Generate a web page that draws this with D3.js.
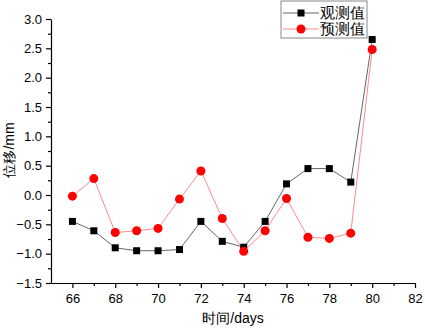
<!DOCTYPE html>
<html>
<head>
<meta charset="utf-8">
<script src="https://cdn.jsdelivr.net/npm/d3@7"></script>
<style>
  body { margin: 0; background: #fff; }
  text { font-family: Arial, "Liberation Sans", sans-serif; }
</style>
</head>
<body>
<div id="chart"></div>
<script>
// days on the x axis
var days = [66, 67, 68, 69, 70, 71, 72, 73, 74, 75, 76, 77, 78, 79, 80];
// observed displacement (mm)
var observed = [-0.45, -0.61, -0.90, -0.95, -0.95, -0.93, -0.45, -0.79, -0.89, -0.45, 0.19, 0.45, 0.45, 0.22, 2.65];
// predicted displacement (mm)
var predicted = [-0.02, 0.28, -0.64, -0.61, -0.57, -0.07, 0.41, -0.40, -0.96, -0.61, -0.06, -0.72, -0.74, -0.65, 2.48];
var xTicks = [66, 68, 70, 72, 74, 76, 78, 80, 82];
var yTicks = [-1.5, -1.0, -0.5, 0.0, 0.5, 1.0, 1.5, 2.0, 2.5, 3.0];
var seriesNames = ["观测值", "预测值"];

window.onload = function() {

  var W = 425, H = 329;
  var margin = {top: 19, bottom: 46, left: 51, right: 10};
  var width = 415 - margin.left, height = 283 - margin.top;

  var svg = d3.select("#chart").append("svg")
      .attr("width", W)
      .attr("height", H);

  var g = svg.append("g")
      .attr("transform", "translate(" + margin.left + "," + margin.top + ")");

  var x = d3.scaleLinear().domain([65, 82]).range([0, width]);
  var y = d3.scaleLinear().domain([-1.5, 3.0]).range([height, 0]);

  // minor ticks first
  g.append("g")
      .attr("transform", "translate(0," + height + ")")
      .call(d3.axisBottom(x).tickValues(d3.range(67, 82, 2)).tickSize(3).tickFormat(""))
      .call(function(a) { a.select(".domain").remove(); });
  g.append("g")
      .call(d3.axisLeft(y).tickValues(d3.range(-1.25, 3, 0.5)).tickSize(3).tickFormat(""))
      .call(function(a) { a.select(".domain").remove(); });

  // main axes
  g.append("g")
      .attr("transform", "translate(0," + height + ")")
      .call(d3.axisBottom(x).tickValues(xTicks).tickSize(5).tickPadding(6).tickSizeOuter(0));
  g.append("g")
      .call(d3.axisLeft(y).tickValues(yTicks).tickSize(5).tickPadding(4).tickSizeOuter(0)
        .tickFormat(d3.format(".1f")));

  g.selectAll(".tick line, .domain").attr("stroke", "#000").attr("stroke-width", 1.2);
  g.selectAll(".tick text").attr("font-size", 13).attr("fill", "#000")
      .attr("font-family", "Arial, 'Liberation Sans', sans-serif");

  var obs = days.map(function(d, i) { return {x: d, y: observed[i]}; });
  var pre = days.map(function(d, i) { return {x: d, y: predicted[i]}; });

  var line = d3.line()
      .x(function(d) { return x(d.x); })
      .y(function(d) { return y(d.y); });

  g.append("path").datum(obs)
      .attr("d", line).attr("fill", "none")
      .attr("stroke", "#666").attr("stroke-width", 1);
  g.append("path").datum(pre)
      .attr("d", line).attr("fill", "none")
      .attr("stroke", "#ff8a8a").attr("stroke-width", 1);

  g.selectAll(".sq").data(obs).enter().append("rect")
      .attr("x", function(d) { return x(d.x) - 3.5; })
      .attr("y", function(d) { return y(d.y) - 3.5; })
      .attr("width", 7).attr("height", 7)
      .attr("fill", "#000");

  g.selectAll(".dot").data(pre).enter().append("circle")
      .attr("cx", function(d) { return x(d.x); })
      .attr("cy", function(d) { return y(d.y); })
      .attr("r", 4.5)
      .attr("fill", "#ff0000");

  // axis titles
  svg.append("text")
      .attr("transform", "translate(14,150) rotate(-90)")
      .attr("text-anchor", "middle")
      .attr("font-size", 14)
      .attr("font-family", "'Noto Sans CJK SC', sans-serif")
      .text("位移/mm");
  svg.append("text")
      .attr("x", 233).attr("y", 323)
      .attr("text-anchor", "middle")
      .attr("font-size", 14)
      .attr("font-family", "'Noto Sans CJK SC', sans-serif")
      .text("时间/days");

  // legend
  var lg = svg.append("g").attr("transform", "translate(281,1)");
  lg.append("rect")
      .attr("width", 86).attr("height", 37)
      .attr("fill", "#fff").attr("stroke", "#888").attr("stroke-width", 1);
  var styles = [
    {stroke: "#666", fill: "#000", shape: "rect"},
    {stroke: "#ff8a8a", fill: "#ff0000", shape: "circle"}
  ];
  seriesNames.forEach(function(name, i) {
    var cy = 12 + i * 16;
    lg.append("line").attr("x1", 2).attr("x2", 38).attr("y1", cy).attr("y2", cy)
        .attr("stroke", styles[i].stroke);
    if (styles[i].shape === "rect") {
      lg.append("rect").attr("x", 16.5).attr("y", cy - 3.5).attr("width", 7).attr("height", 7)
          .attr("fill", styles[i].fill);
    } else {
      lg.append("circle").attr("cx", 20).attr("cy", cy).attr("r", 4.5).attr("fill", styles[i].fill);
    }
    lg.append("text").attr("x", 39).attr("y", cy + 5)
        .attr("font-size", 14.5)
        .attr("font-family", "'Noto Serif CJK SC', 'Noto Sans CJK SC', serif")
        .text(name);
  });
};
</script>
</body>
</html>
